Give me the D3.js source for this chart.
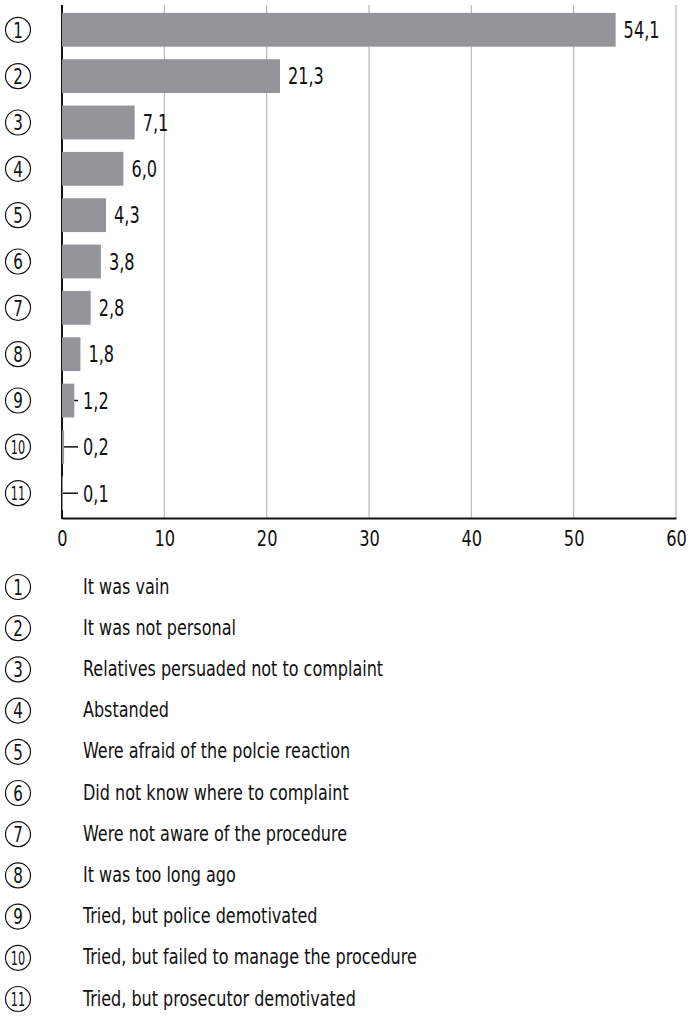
<!DOCTYPE html>
<html>
<head>
<meta charset="utf-8">
<script src="https://cdn.jsdelivr.net/npm/d3@7"></script>
<style>
  html, body { margin: 0; padding: 0; background: #fff; }
  svg { display: block; }
  text { font-family: "DejaVu Sans Condensed", "Liberation Sans Narrow", "Open Sans", sans-serif; fill: #111; }
</style>
</head>
<body>
<div id="chart"></div>
<script>
// Reasons for not filing a complaint, share of respondents (%)
const ids = [1, 2, 3, 4, 5, 6, 7, 8, 9, 10, 11];
const values = [54.1, 21.3, 7.1, 6.0, 4.3, 3.8, 2.8, 1.8, 1.2, 0.2, 0.1];
const reasons = [
  "It was vain",
  "It was not personal",
  "Relatives persuaded not to complaint",
  "Abstanded",
  "Were afraid of the polcie reaction",
  "Did not know where to complaint",
  "Were not aware of the procedure",
  "It was too long ago",
  "Tried, but police demotivated",
  "Tried, but failed to manage the procedure",
  "Tried, but prosecutor demotivated"
];
const xTicks = [0, 10, 20, 30, 40, 50, 60];

const W = 690, H = 1018;
const plot = { left: 62, right: 676, top: 5, bottom: 518 };
const barColor = "#939598";
const fmt = v => d3.format(".1f")(v).replace(".", ",");

const svg = d3.select("#chart").append("svg")
  .attr("width", W).attr("height", H);

// narrow text: horizontally condensed glyphs
function ntext(g, px, py, str, size, sx, anchor = "start", dy = "0.36em") {
  return g.append("text")
    .attr("transform", `translate(${px},${py}) scale(${sx},1)`)
    .attr("dy", dy)
    .attr("text-anchor", anchor)
    .attr("font-size", size)
    .text(str);
}

const x = d3.scaleLinear().domain([0, 60]).range([plot.left, plot.right]);
const y = d3.scaleBand().domain(ids).range([plot.top, plot.bottom])
  .paddingInner(0.27).paddingOuter(0.17);

// vertical gridlines
svg.append("g").selectAll("line").data(xTicks.filter(t => t > 0)).join("line")
  .attr("x1", d => x(d)).attr("x2", d => x(d))
  .attr("y1", plot.top).attr("y2", plot.bottom)
  .attr("stroke", "#b8b8b8").attr("stroke-width", 1.2);

// category axis line
svg.append("line")
  .attr("x1", plot.left).attr("x2", plot.left)
  .attr("y1", plot.top).attr("y2", plot.bottom + 1)
  .attr("stroke", "#111").attr("stroke-width", 2);

// bars
svg.append("g").selectAll("rect").data(ids).join("rect")
  .attr("x", x(0))
  .attr("y", d => y(d))
  .attr("width", (d, i) => x(values[i]) - x(0))
  .attr("height", y.bandwidth())
  .attr("fill", barColor);

// value labels, with leader lines for the thinnest bars
const minLabelX = 83;
const lab = svg.append("g");
ids.forEach((d, i) => {
  const end = x(values[i]);
  const cy = y(d) + y.bandwidth() / 2;
  const lx = Math.max(end + 8, minLabelX);
  if (end + 8 < minLabelX) {
    lab.append("line")
      .attr("x1", end).attr("x2", lx - 5)
      .attr("y1", cy).attr("y2", cy)
      .attr("stroke", "#111").attr("stroke-width", 1.5);
  }
  ntext(lab, lx, cy, fmt(values[i]), 23, 0.78);
});

// value axis
const xAxis = svg.append("g")
  .attr("transform", `translate(0,${plot.bottom})`)
  .call(d3.axisBottom(x).tickValues(xTicks).tickSize(0).tickPadding(12).tickFormat(d3.format("d")));
xAxis.select(".domain").attr("stroke", "#111").attr("stroke-width", 2);
xAxis.selectAll(".tick text")
  .attr("font-size", 22)
  .attr("transform", "scale(0.82,1)")
  .attr("fill", "#111");

// circled row numbers
function badge(g, cx, cy, n) {
  g.append("circle").attr("cx", cx).attr("cy", cy).attr("r", 12.5)
    .attr("fill", "none").attr("stroke", "#111").attr("stroke-width", 1.2);
  if (n > 9) ntext(g, cx, cy, String(n), 19, 0.66, "middle", "0.37em");
  else ntext(g, cx, cy, String(n), 21, 0.8, "middle", "0.37em");
}
const rowBadges = svg.append("g");
ids.forEach(d => badge(rowBadges, 18, y(d) + y.bandwidth() / 2, d));

// legend
const legendY = d3.scalePoint().domain(ids).range([587, 999]);
const legend = svg.append("g");
ids.forEach((d, i) => {
  badge(legend, 18, legendY(d), d);
  ntext(legend, 83, legendY(d), reasons[i], 22, 0.81, "start", "0.3em");
});
</script>
</body>
</html>
